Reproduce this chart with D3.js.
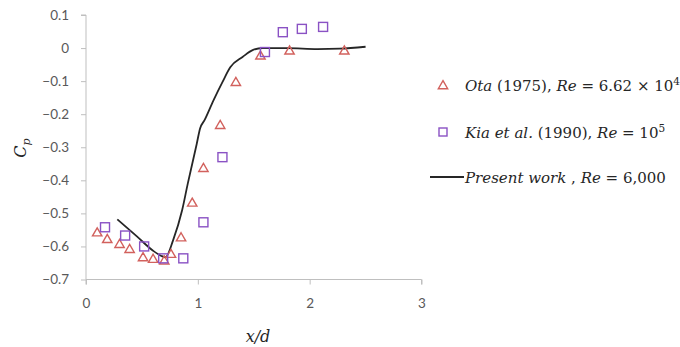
<!DOCTYPE html>
<html>
<head>
<meta charset="utf-8">
<script src="https://cdn.jsdelivr.net/npm/d3@7"></script>
<style>
  body { margin:0; background:#fff; }
  .tick text { font-family: Lato, "Open Sans", sans-serif; font-size:13.5px; fill:#595959; }
  .leg { font-family: "DejaVu Serif", serif; font-size:15px; fill:#262626; }
</style>
</head>
<body>
<svg></svg>
<script>
// Ota (1975)
var otaX = [0.10, 0.19, 0.30, 0.39, 0.51, 0.60, 0.70, 0.76, 0.85, 0.95, 1.05, 1.20, 1.34, 1.56, 1.82, 2.31];
var otaY = [-0.56, -0.58, -0.595, -0.61, -0.635, -0.64, -0.645, -0.625, -0.575, -0.47, -0.365, -0.235, -0.105, -0.025, -0.01, -0.01];

// Kia et al. (1990)
var kiaX = [0.17, 0.35, 0.52, 0.69, 0.87, 1.05, 1.22, 1.60, 1.76, 1.93, 2.12];
var kiaY = [-0.542, -0.567, -0.60, -0.636, -0.636, -0.527, -0.33, -0.012, 0.048, 0.058, 0.064];

// Present work
var presX = [0.28, 0.45, 0.60, 0.67, 0.71, 0.78, 0.86, 0.91, 0.99, 1.02, 1.06, 1.14, 1.22, 1.29, 1.40, 1.49, 1.58, 1.80, 2.07, 2.27, 2.50];
var presY = [-0.518, -0.568, -0.613, -0.628, -0.633, -0.58, -0.49, -0.41, -0.29, -0.243, -0.218, -0.158, -0.103, -0.058, -0.027, -0.006, 0, 0, -0.003, -0.002, 0.004];

var xTicks = [0, 1, 2, 3];
var yTicks = [0.1, 0, -0.1, -0.2, -0.3, -0.4, -0.5, -0.6, -0.7];

var svgwidth = 680, svgheight = 347;
var svg = d3.select('svg').attr('width', svgwidth).attr('height', svgheight);

var xScale = d3.scaleLinear().domain([0, 3]).range([86, 421.5]);
var yScale = d3.scaleLinear().domain([-0.7, 0.1]).range([279.5, 15]);

var axisColor = '#bfbfbf';

var yAxis = d3.axisLeft(yScale).tickValues(yTicks).tickSize(5).tickPadding(12)
              .tickFormat(function(d){ return d === 0 ? '0' : d3.format('.1f')(d); });
svg.append('g').attr('transform', 'translate(86,0)').call(yAxis)
   .call(function(g){
     g.select('.domain').attr('stroke', axisColor).attr('d', 'M-5,' + yScale(0.1) + 'H0V' + yScale(-0.7));
     g.selectAll('.tick line').attr('stroke', axisColor);
   });

var xAxis = d3.axisBottom(xScale).tickValues(xTicks).tickSize(5).tickPadding(14).tickFormat(d3.format('d'));
svg.append('g').attr('transform', 'translate(0,' + yScale(-0.7) + ')').call(xAxis)
   .call(function(g){
     g.select('.domain').attr('stroke', axisColor).attr('d', 'M' + xScale(0) + ',5V0H' + xScale(3) + 'V5');
     g.selectAll('.tick line').attr('stroke', axisColor);
   });

// axis titles
svg.append('text').attr('class', 'leg').attr('x', 258).attr('y', 342).attr('text-anchor', 'middle')
   .style('font-style', 'italic').style('font-size', '16px').text('x/d');
var cp = svg.append('text').attr('class', 'leg')
   .attr('transform', 'translate(26,148) rotate(-90)').attr('text-anchor', 'middle')
   .style('font-style', 'italic').style('font-size', '16px');
cp.append('tspan').text('C');
cp.append('tspan').attr('dy', 4).style('font-size', '11px').text('p');

// present work line
var presData = presX.map(function(x, i){ return [x, presY[i]]; });
var line = d3.line().x(function(d){ return xScale(d[0]); }).y(function(d){ return yScale(d[1]); })
             .curve(d3.curveMonotoneX);
svg.append('path').datum(presData).attr('d', line)
   .attr('fill', 'none').attr('stroke', '#262626').attr('stroke-width', 1.8);

var triColor = '#d2615d', sqColor = '#8a52c4';
var tri = d3.symbol().type(d3.symbolTriangle).size(38);

svg.append('g').selectAll('path').data(otaX).enter().append('path')
   .attr('d', tri)
   .attr('transform', function(d, i){ return 'translate(' + xScale(d) + ',' + yScale(otaY[i]) + ')'; })
   .attr('fill', 'none').attr('stroke', triColor).attr('stroke-width', 1.4);

svg.append('g').selectAll('rect').data(kiaX).enter().append('rect')
   .attr('x', function(d){ return xScale(d) - 4.5; })
   .attr('y', function(d, i){ return yScale(kiaY[i]) - 4.5; })
   .attr('width', 9).attr('height', 9)
   .attr('fill', 'none').attr('stroke', sqColor).attr('stroke-width', 1.4);

// legend
svg.append('path').attr('d', tri).attr('transform', 'translate(443,86)')
   .attr('fill', 'none').attr('stroke', triColor).attr('stroke-width', 1.4);
svg.append('rect').attr('x', 439).attr('y', 128).attr('width', 8).attr('height', 8)
   .attr('fill', 'none').attr('stroke', sqColor).attr('stroke-width', 1.4);
svg.append('line').attr('x1', 430).attr('x2', 464).attr('y1', 177).attr('y2', 177)
   .attr('stroke', '#262626').attr('stroke-width', 1.8);

function legText(y, parts){
  var t = svg.append('text').attr('class', 'leg').attr('x', 465).attr('y', y);
  parts.forEach(function(p){
    var s = t.append('tspan').text(p[0]);
    if (p[1]) s.style('font-style', 'italic');
    if (p[2]) s.attr('dy', p[2]).style('font-size', '10.5px');
  });
}
legText(91, [['Ota', true], [' (1975), '], ['Re', true], [' = 6.62 × 10'], ['4', false, -6]]);
legText(138, [['Kia et al.', true], [' (1990), '], ['Re', true], [' = 10'], ['5', false, -6]]);
legText(183, [['Present work', true], [' , '], ['Re', true], [' = 6,000']]);
</script>
</body>
</html>
